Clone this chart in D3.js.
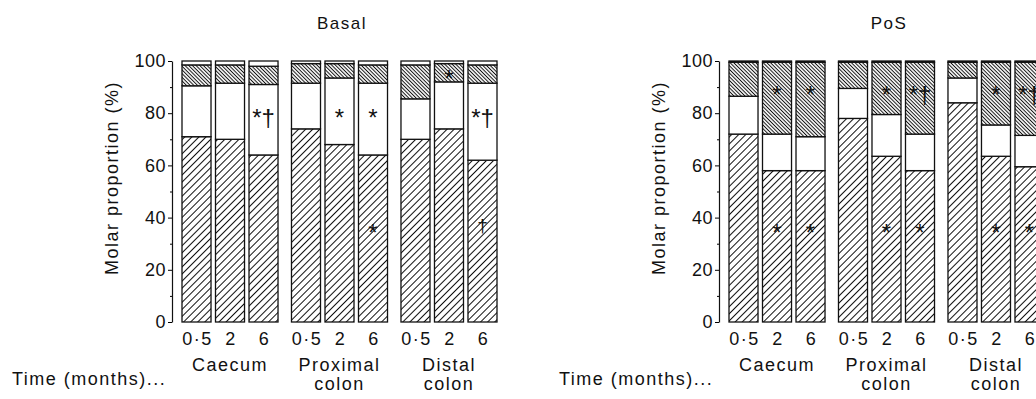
<!DOCTYPE html>
<html>
<head>
<meta charset="utf-8">
<script src="https://cdn.jsdelivr.net/npm/d3@7"></script>
<style>
body { margin: 0; background: #fff; }
text { font-family: "Liberation Sans", Arial, sans-serif; fill: #111; letter-spacing: 1.5px; }
</style>
</head>
<body>
<div id="chart"></div>
<script>
// categories
var times = ["0·5", "2", "6"];
var sites = ["Caecum", "Proximal colon", "Distal colon"];

// Basal diet, molar proportions (%), bottom to top, order: caecum 0.5/2/6, proximal..., distal...
var basalAcetate    = [71, 70, 64, 74, 68, 64, 70, 74, 62];
var basalPropionate = [19.5, 21.5, 27, 17.5, 25.5, 27.5, 15.5, 18, 29.5];
var basalButyrate   = [8, 7, 7, 7.5, 5.5, 7, 13, 7, 7];
var basalOther      = [1.5, 1.5, 2, 1, 1, 1.5, 1.5, 1, 1.5];

// PoS diet
var posAcetate    = [72, 58, 58, 78, 63.5, 58, 84, 63.5, 59.5];
var posPropionate = [14.5, 14, 13, 11.5, 16, 14, 9.5, 12, 12];
var posButyrate   = [13, 27.5, 28.5, 10, 20, 27.5, 6, 24, 28];
var posOther      = [0.5, 0.5, 0.5, 0.5, 0.5, 0.5, 0.5, 0.5, 0.5];

// significance marks: site, time, level (%), text
var basalMarks = [
  ["Caecum", "6", 80, "*†"],
  ["Proximal colon", "2", 80, "*"],
  ["Proximal colon", "6", 80, "*"],
  ["Proximal colon", "6", 36, "*"],
  ["Distal colon", "2", 95, "*"],
  ["Distal colon", "6", 80, "*†"],
  ["Distal colon", "6", 37, "†"]
];
var posMarks = [
  ["Caecum", "2", 89, "*"], ["Caecum", "2", 36, "*"],
  ["Caecum", "6", 89, "*"], ["Caecum", "6", 36, "*"],
  ["Proximal colon", "2", 89, "*"], ["Proximal colon", "2", 36, "*"],
  ["Proximal colon", "6", 89, "*†"], ["Proximal colon", "6", 36, "*"],
  ["Distal colon", "2", 89, "*"], ["Distal colon", "2", 36, "*"],
  ["Distal colon", "6", 89, "*†"], ["Distal colon", "6", 36, "*"]
];

var width = 1036;
var height = 399;

var svg = d3.select('#chart').append('svg')
  .attr("width", width)
  .attr("height", height);

// hatch patterns
var defs = svg.append('defs');
function hatch(id, size, angle) {
  var p = defs.append('pattern')
    .attr("id", id)
    .attr("patternUnits", "userSpaceOnUse")
    .attr("width", size)
    .attr("height", size)
    .attr("patternTransform", "rotate(" + angle + ")");
  p.append('rect').attr("width", size).attr("height", size).attr("fill", "#fff");
  p.append('line')
    .attr("x1", size / 2).attr("x2", size / 2)
    .attr("y1", 0).attr("y2", size)
    .attr("stroke", "#111").attr("stroke-width", 1);
}
hatch("hatchA", 5, 45);
hatch("hatchB", 2.6, -45);

var fills = {acetate: "url(#hatchA)", propionate: "#fff", butyrate: "url(#hatchB)", other: "#fff"};
var keys = ["acetate", "propionate", "butyrate", "other"];

var y = d3.scaleLinear()
  .domain([0, 100])
  .range([322, 61]);

function drawPanel(x0, title, acetate, propionate, butyrate, other, marks) {
  var g = svg.append('g');

  var site = d3.scaleBand()
    .domain(sites)
    .range([x0 + 10, x0 + 325])
    .paddingInner(0.123);
  var time = d3.scaleBand()
    .domain(times)
    .range([0, site.bandwidth()])
    .paddingInner(0.134);

  var rows = [];
  for (var i = 0; i < acetate.length; i++) {
    rows.push({
      site: sites[Math.floor(i / 3)],
      time: times[i % 3],
      acetate: acetate[i],
      propionate: propionate[i],
      butyrate: butyrate[i],
      other: other[i]
    });
  }
  var stacked = d3.stack().keys(keys)(rows);

  g.selectAll('g.layer')
    .data(stacked)
    .enter()
    .append('g')
    .attr("class", "layer")
    .attr("fill", function(d) { return fills[d.key]; })
    .selectAll('rect')
    .data(function(d) { return d; })
    .enter()
    .append('rect')
    .attr("x", function(d) { return site(d.data.site) + time(d.data.time); })
    .attr("y", function(d) { return y(d[1]); })
    .attr("width", time.bandwidth())
    .attr("height", function(d) { return y(d[0]) - y(d[1]); })
    .attr("stroke", "#111")
    .attr("stroke-width", 1.3);

  // y axis
  var yAxis = g.append('g')
    .attr("transform", "translate(" + x0 + ",0)")
    .call(d3.axisLeft(y).tickValues([0, 20, 40, 60, 80, 100]).tickSize(4).tickSizeOuter(0));
  yAxis.selectAll('text').style("font-size", "18px").attr("x", -6).style("letter-spacing", "0.5px");
  yAxis.select('.domain').attr("stroke", "#111").attr("stroke-width", 1.2);
  g.append('g')
    .attr("transform", "translate(" + x0 + ",0)")
    .call(d3.axisLeft(y).tickValues([10, 30, 50, 70, 90]).tickSize(2).tickFormat(""))
    .select('.domain').remove();

  g.append('text')
    .attr("transform", "translate(" + (x0 - 54) + "," + 178 + ") rotate(-90)")
    .attr("text-anchor", "middle")
    .style("font-size", "18px")
    .text("Molar proportion (%)");

  // title
  g.append('text')
    .attr("x", x0 + 170)
    .attr("y", 29)
    .attr("text-anchor", "middle")
    .style("font-size", "17px")
    .text(title);

  // time labels under bars
  rows.forEach(function(r) {
    g.append('text')
      .attr("x", site(r.site) + time(r.time) + time.bandwidth() / 2 + 1)
      .attr("y", 345)
      .attr("text-anchor", "middle")
      .style("font-size", "18px")
      .text(r.time);
  });

  // site labels
  sites.forEach(function(s) {
    var words = s.split(" ");
    var t = g.append('text')
      .attr("text-anchor", "middle")
      .style("font-size", "18px");
    words.forEach(function(w, k) {
      t.append('tspan')
        .attr("x", site(s) + site.bandwidth() / 2)
        .attr("y", 371 + k * 19)
        .text(w);
    });
  });

  g.append('text')
    .attr("x", x0 - 160)
    .attr("y", 385)
    .style("font-size", "18px")
    .text("Time (months)...");

  // significance marks
  g.selectAll('text.mark')
    .data(marks)
    .enter()
    .append('text')
    .attr("class", "mark")
    .attr("x", function(d) { return site(d[0]) + time(d[1]) + time.bandwidth() / 2; })
    .attr("y", function(d) { return y(d[2]) + (d[3] === "†" ? 7 : 13); })
    .attr("text-anchor", "middle")
    .style("font-size", function(d) { return d[3] === "†" ? "19px" : "24px"; })
    .style("letter-spacing", "0px")
    .text(function(d) { return d[3]; });
}

drawPanel(172, "Basal", basalAcetate, basalPropionate, basalButyrate, basalOther, basalMarks);
drawPanel(719, "PoS", posAcetate, posPropionate, posButyrate, posOther, posMarks);
</script>
</body>
</html>
